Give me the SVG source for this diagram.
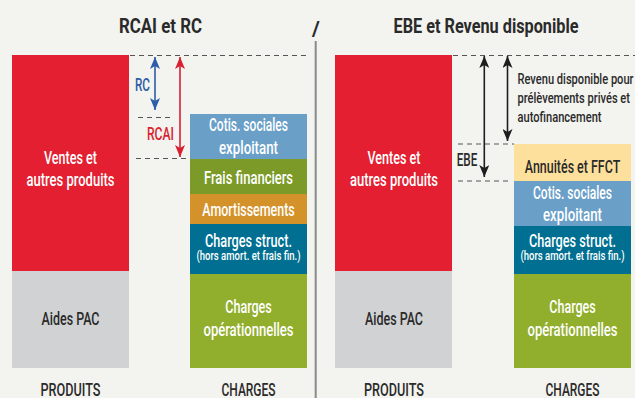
<svg xmlns="http://www.w3.org/2000/svg" width="635" height="398" viewBox="0 0 635 398">
<defs>
<style>
text{font-family:Roboto,"Liberation Sans Narrow","Liberation Sans",sans-serif;text-anchor:middle;font-weight:500}
.t{font-size:21px;font-weight:bold;fill:#2a2a2a}
.w{font-size:17.5px;fill:#ffffff}
.d{font-size:17.5px;fill:#2a2a2a}
.s{font-size:12px;fill:#ffffff}
.n{font-size:15.5px;fill:#2a2a2a;text-anchor:start}
.dash{stroke:#555555;stroke-width:1;stroke-dasharray:5 4;fill:none}
</style>
<marker id="mb" viewBox="0 0 12 10" refX="12" refY="5" markerWidth="12" markerHeight="10" markerUnits="userSpaceOnUse" orient="auto-start-reverse"><path d="M0,0 L12,5 L0,10 L3,5 z" fill="#2d5ca8"/></marker>
<marker id="mr" viewBox="0 0 12 10" refX="12" refY="5" markerWidth="12" markerHeight="10" markerUnits="userSpaceOnUse" orient="auto-start-reverse"><path d="M0,0 L12,5 L0,10 L3,5 z" fill="#d91f30"/></marker>
<marker id="mk" viewBox="0 0 12 10" refX="12" refY="5" markerWidth="12" markerHeight="10" markerUnits="userSpaceOnUse" orient="auto-start-reverse"><path d="M0,0 L12,5 L0,10 L3,5 z" fill="#1e1e1e"/></marker>
</defs>
<rect x="0" y="0" width="635" height="398" fill="#f3f3ef"/>

<g id="titles">
<text class="t" x="160.5" y="33" textLength="83" lengthAdjust="spacingAndGlyphs">RCAI et RC</text>
<text class="t" x="486" y="33" textLength="185" lengthAdjust="spacingAndGlyphs">EBE et Revenu disponible</text>
<text class="t" x="316" y="36" font-size="26px">/</text>
</g>
<g id="separator"><line x1="315.7" y1="41" x2="315.7" y2="398" stroke="#8a8a8a" stroke-width="2"/></g>

<!-- Left panel -->
<g id="l-ventes"><rect x="12" y="55" width="117" height="216" fill="#e41f31"/>
<text class="w" x="70.5" y="164" textLength="53" lengthAdjust="spacingAndGlyphs">Ventes et</text>
<text class="w" x="70.5" y="186" textLength="88" lengthAdjust="spacingAndGlyphs">autres produits</text></g>
<g id="l-aides"><rect x="12" y="271" width="117" height="97" fill="#d1d2d4"/>
<text class="d" x="70.5" y="325" textLength="58" lengthAdjust="spacingAndGlyphs">Aides PAC</text></g>
<g id="l-cotis"><rect x="190" y="114" width="117" height="45" fill="#6a9fc8"/>
<text class="w" x="248.5" y="131" textLength="79" lengthAdjust="spacingAndGlyphs">Cotis. sociales</text>
<text class="w" x="248.5" y="154" textLength="59" lengthAdjust="spacingAndGlyphs">exploitant</text></g>
<g id="l-frais"><rect x="190" y="159" width="117" height="35" fill="#7b9a28"/>
<text class="w" x="248.5" y="183.5" textLength="89" lengthAdjust="spacingAndGlyphs">Frais financiers</text></g>
<g id="l-amort"><rect x="190" y="194" width="117" height="30" fill="#d4922b"/>
<text class="w" x="248.5" y="215.5" textLength="92.5" lengthAdjust="spacingAndGlyphs">Amortissements</text></g>
<g id="l-struct"><rect x="190" y="224" width="117" height="50" fill="#006f91"/>
<text class="w" x="248.5" y="246.5" textLength="87" lengthAdjust="spacingAndGlyphs">Charges struct.</text>
<text class="s" x="248.5" y="260" textLength="104" lengthAdjust="spacingAndGlyphs">(hors amort. et frais fin.)</text></g>
<g id="l-ope"><rect x="190" y="274" width="117" height="94" fill="#91ae2c"/>
<text class="w" x="248.5" y="313" textLength="46.5" lengthAdjust="spacingAndGlyphs">Charges</text>
<text class="w" x="248.5" y="336" textLength="90" lengthAdjust="spacingAndGlyphs">opérationnelles</text></g>
<g id="l-labels">
<text class="d" x="70.5" y="396" textLength="60" lengthAdjust="spacingAndGlyphs">PRODUITS</text>
<text class="d" x="248.5" y="396" textLength="54" lengthAdjust="spacingAndGlyphs">CHARGES</text>
<text x="142.5" y="91" font-size="18px" fill="#2d5ca8" textLength="15" lengthAdjust="spacingAndGlyphs">RC</text>
<text x="160.5" y="140" font-size="18px" fill="#d91f30" textLength="27" lengthAdjust="spacingAndGlyphs">RCAI</text>
</g>

<!-- Right panel -->
<g id="r-ventes"><rect x="335" y="55" width="117" height="216" fill="#e41f31"/>
<text class="w" x="394" y="164" textLength="53" lengthAdjust="spacingAndGlyphs">Ventes et</text>
<text class="w" x="394" y="186" textLength="88" lengthAdjust="spacingAndGlyphs">autres produits</text></g>
<g id="r-aides"><rect x="335" y="271" width="117" height="97" fill="#d1d2d4"/>
<text class="d" x="394" y="325" textLength="58" lengthAdjust="spacingAndGlyphs">Aides PAC</text></g>
<g id="r-annuites"><rect x="514" y="144" width="117" height="37" fill="#fde09c"/>
<text class="d" x="572.5" y="172.5" textLength="95.5" lengthAdjust="spacingAndGlyphs">Annuités et FFCT</text></g>
<g id="r-cotis"><rect x="514" y="181" width="117" height="45" fill="#6a9fc8"/>
<text class="w" x="572.5" y="199" textLength="79" lengthAdjust="spacingAndGlyphs">Cotis. sociales</text>
<text class="w" x="572.5" y="220.5" textLength="59" lengthAdjust="spacingAndGlyphs">exploitant</text></g>
<g id="r-struct"><rect x="514" y="226" width="117" height="48" fill="#006f91"/>
<text class="w" x="572.5" y="246.5" textLength="87" lengthAdjust="spacingAndGlyphs">Charges struct.</text>
<text class="s" x="572.5" y="260" textLength="104" lengthAdjust="spacingAndGlyphs">(hors amort. et frais fin.)</text></g>
<g id="r-ope"><rect x="514" y="274" width="117" height="94" fill="#91ae2c"/>
<text class="w" x="572.5" y="313" textLength="46.5" lengthAdjust="spacingAndGlyphs">Charges</text>
<text class="w" x="572.5" y="336" textLength="90" lengthAdjust="spacingAndGlyphs">opérationnelles</text></g>
<g id="r-labels">
<text class="d" x="394" y="396" textLength="60" lengthAdjust="spacingAndGlyphs">PRODUITS</text>
<text class="d" x="572.5" y="396" textLength="54" lengthAdjust="spacingAndGlyphs">CHARGES</text>
<text class="d" x="467" y="166" font-size="16.5px" textLength="20.5" lengthAdjust="spacingAndGlyphs">EBE</text>
<text class="n" x="517.5" y="84" textLength="116" lengthAdjust="spacingAndGlyphs">Revenu disponible pour</text>
<text class="n" x="517.5" y="103" textLength="112.5" lengthAdjust="spacingAndGlyphs">prélèvements privés et</text>
<text class="n" x="517.5" y="121.5" textLength="84" lengthAdjust="spacingAndGlyphs">autofinancement</text>
</g>

<g id="connectors">
<line class="dash" x1="130" y1="55.5" x2="307" y2="55.5"/>
<line class="dash" x1="138" y1="117.5" x2="173" y2="117.5"/>
<line class="dash" x1="136" y1="158.5" x2="190" y2="158.5"/>
<line class="dash" x1="453" y1="55.5" x2="635" y2="55.5"/>
<line class="dash" x1="458" y1="144" x2="514" y2="144"/>
<line class="dash" x1="458" y1="181" x2="512" y2="181"/>
<line x1="155" y1="57" x2="155" y2="110" stroke="#2d5ca8" stroke-width="1.6" marker-start="url(#mb)" marker-end="url(#mb)"/>
<line x1="180" y1="57" x2="180" y2="157" stroke="#d91f30" stroke-width="1.6" marker-start="url(#mr)" marker-end="url(#mr)"/>
<line x1="484.3" y1="56" x2="484.3" y2="177" stroke="#1e1e1e" stroke-width="1.6" marker-start="url(#mk)" marker-end="url(#mk)"/>
<line x1="507.5" y1="56" x2="507.5" y2="141" stroke="#1e1e1e" stroke-width="1.6" marker-start="url(#mk)" marker-end="url(#mk)"/>
</g>
</svg>
